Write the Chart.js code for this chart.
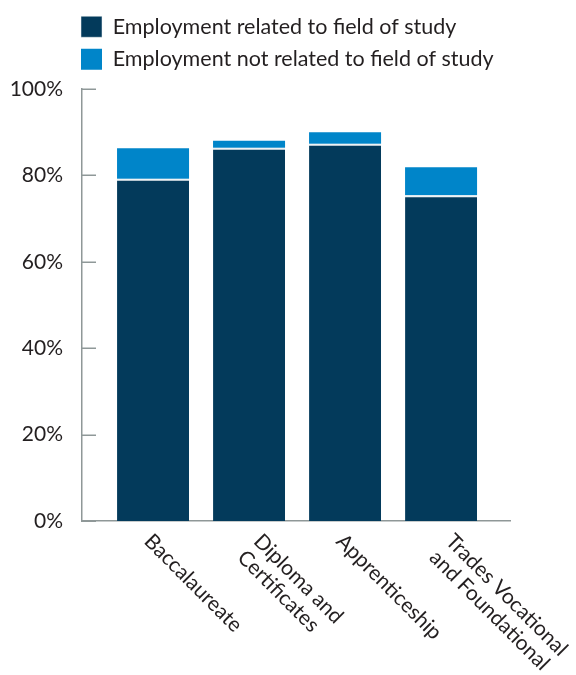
<!DOCTYPE html>
<html><head><meta charset="utf-8">
<script src="https://cdn.jsdelivr.net/npm/chart.js@4/dist/chart.umd.min.js"></script>
<style>html,body{margin:0;padding:0;background:#fff;}#wrap{width:576px;height:675px;position:relative;}</style>
</head><body><div id="wrap"><canvas id="c" width="576" height="675"></canvas></div>
<script>
const categories = [["Baccalaureate"], ["Diploma and", "Certificates"], ["Apprenticeship"], ["Trades Vocational", "and Foundational"]];
const seriesNames = ["Employment related to field of study", "Employment not related to field of study"];
const related = [79.2, 86.4, 87.3, 75.4];
const notRelated = [7.1, 1.6, 2.7, 6.5];
const yTickValues = [0, 20, 40, 60, 80, 100];

const FONT = "Lato";
const TEXT = "#231f20";
const AXIS = "#8f9898";
const DARK = "#033a5b";
const LIGHT = "#0085c9";

const toPoints = arr => arr.map((v, i) => ({x: i, y: v}));

const legendShift = {
  id: 'legendShift',
  beforeInit(chart) {
    const lg = chart.legend;
    const orig = lg.fit;
    lg.fit = function () { orig.call(this); this.height += 9; };
  },
  afterLayout(chart) { chart.legend.left = 70; }
};
const yTickMarks = {
  id: 'yTickMarks',
  afterDraw(chart) {
    const ctx = chart.ctx, ys = chart.scales.y, left = chart.chartArea.left;
    ctx.save();
    ctx.strokeStyle = AXIS; ctx.lineWidth = 1.5;
    yTickValues.forEach(v => {
      const y = Math.round(ys.getPixelForValue(v)) + 0.25;
      ctx.beginPath(); ctx.moveTo(left, y); ctx.lineTo(left + 14, y); ctx.stroke();
    });
    ctx.restore();
  }
};
const xLabels = {
  id: 'xLabels',
  afterDraw(chart) {
    const ctx = chart.ctx, xs = chart.scales.x;
    ctx.save();
    ctx.font = "21px " + FONT;
    ctx.fillStyle = TEXT;
    ctx.textBaseline = 'alphabetic';
    ctx.textAlign = 'left';
    const lh = 23;
    categories.forEach((lines, i) => {
      const n = lines.length;
      const x = xs.getPixelForValue(i) - 10 + 13.5 * (n - 1);
      const y = xs.top + 21.5;
      ctx.save();
      ctx.translate(x, y);
      ctx.rotate(Math.PI / 4);
      lines.forEach((l, j) => ctx.fillText(l, 0, j * lh));
      ctx.restore();
    });
    ctx.restore();
  }
};

new Chart(document.getElementById('c'), {
  type: 'bar',
  data: {
    datasets: [
      {label: seriesNames[0], data: toPoints(related), backgroundColor: DARK, borderColor: '#eef2f4',
       borderWidth: {top: 2, left: 0, right: 0, bottom: 0}, borderSkipped: false},
      {label: seriesNames[1], data: toPoints(notRelated), backgroundColor: LIGHT, borderWidth: 0}
    ]
  },
  options: {
    responsive: false,
    animation: false,
    layout: {padding: {top: 5, right: 66, left: 0, bottom: 0}},
    datasets: {bar: {categoryPercentage: 0.75, barPercentage: 1}},
    scales: {
      x: {
        type: 'linear', stacked: true, min: -0.74, max: 3.718, bounds: 'data', offset: false,
        grid: {display: false, drawTicks: false, offset: false},
        border: {display: true, color: AXIS, width: 1.5},
        ticks: {display: false, stepSize: 1, includeBounds: false},
        afterFit(s) { s.height = 154; }
      },
      y: {
        stacked: true, min: 0, max: 100,
        grid: {display: false, drawTicks: false},
        border: {display: true, color: AXIS, width: 1.5},
        ticks: {stepSize: 20, padding: 19, color: TEXT, font: {family: FONT, size: 21},
                callback: v => v + '%'},
        afterFit(s) { s.width = 82; }
      }
    },
    plugins: {
      legend: {
        position: 'top', align: 'start',
        labels: {boxWidth: 21, boxHeight: 21, padding: 11, color: TEXT, font: {family: FONT, size: 21.5}}
      },
      tooltip: {enabled: false}
    }
  },
  plugins: [legendShift, yTickMarks, xLabels]
});
</script></body></html>
